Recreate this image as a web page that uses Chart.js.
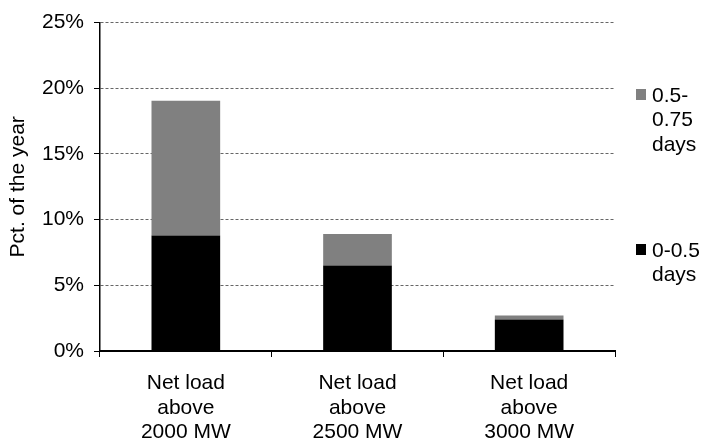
<!DOCTYPE html>
<html>
<head>
<meta charset="utf-8">
<script src="https://cdn.jsdelivr.net/npm/chart.js@4"></script>
<style>
html,body{margin:0;padding:0;background:#fff;}
#wrap{position:relative;width:702px;height:443px;}
</style>
</head>
<body>
<div id="wrap"><canvas id="c" width="702" height="443"></canvas></div>
<script>
const categories = [["Net load","above","2000 MW"],["Net load","above","2500 MW"],["Net load","above","3000 MW"]];
const seriesNames = ["0-0.5 days","0.5-0.75 days"];
const legendLines = [["0.5-","0.75","days"],["0-0.5","days"]];
const shortDays = [8.8, 6.5, 2.4];
const longDays = [10.25, 2.4, 0.3];
const yTicks = [0,5,10,15,20,25];
const colors = ["#000000","#808080"];

const FONT = "'Liberation Sans', Arial, sans-serif";

const legendPlugin = {
  id: 'customLegend',
  afterDraw(chart) {
    const ctx = chart.ctx;
    ctx.save();
    ctx.font = "21px " + FONT;
    ctx.textBaseline = 'middle';
    ctx.textAlign = 'left';
    const items = [
      {color: colors[1], lines: legendLines[0], y: 96},
      {color: colors[0], lines: legendLines[1], y: 251}
    ];
    items.forEach(it => {
      ctx.fillStyle = it.color;
      ctx.fillRect(636, it.y - 7, 10, 11);
      ctx.fillStyle = '#000';
      it.lines.forEach((l, i) => ctx.fillText(l, 652, it.y + i * 24.5));
    });
    ctx.restore();
  }
};

new Chart(document.getElementById('c'), {
  type: 'bar',
  data: {
    labels: categories,
    datasets: [
      {label: seriesNames[0], data: shortDays, backgroundColor: colors[0], borderWidth: 0},
      {label: seriesNames[1], data: longDays, backgroundColor: colors[1], borderWidth: 0}
    ]
  },
  options: {
    responsive: false,
    animation: false,
    layout: {padding: {top: 19, right: 87, left: 0, bottom: 0}},
    plugins: {legend: {display: false}, tooltip: {enabled: false}},
    datasets: {bar: {barPercentage: 0.4, categoryPercentage: 1}},
    scales: {
      x: {
        stacked: true,
        afterFit(s) { s.height = 92; },
        grid: {offset: true, drawOnChartArea: false, drawTicks: true, tickLength: 6, tickColor: '#000', tickWidth: 1},
        border: {color: '#000', width: 2, z: 1},
        ticks: {color: '#000', font: {family: FONT, size: 21, lineHeight: 1.17}, padding: 14, maxRotation: 0, autoSkip: false}
      },
      y: {
        stacked: true,
        min: 0, max: 25,
        afterFit(s) { s.width = 100; },
        afterBuildTicks(s) { s.ticks = yTicks.map(v => ({value: v})); },
        grid: {
          color: c => (c.tick && c.tick.value === 0) ? 'rgba(0,0,0,0)' : '#666',
          lineWidth: 1, drawTicks: true, tickLength: 6, tickColor: '#000', tickBorderDash: [], tickWidth: 1
        },
        border: {color: '#000', width: 1.5, dash: [3, 2]},
        title: {display: true, text: 'Pct. of the year', color: '#000', font: {family: FONT, size: 21}, padding: {top: 6, bottom: 4}},
        ticks: {color: '#000', font: {family: FONT, size: 21}, padding: 10, callback: v => v + '%'}
      }
    }
  },
  plugins: [legendPlugin]
});
</script>
</body>
</html>
